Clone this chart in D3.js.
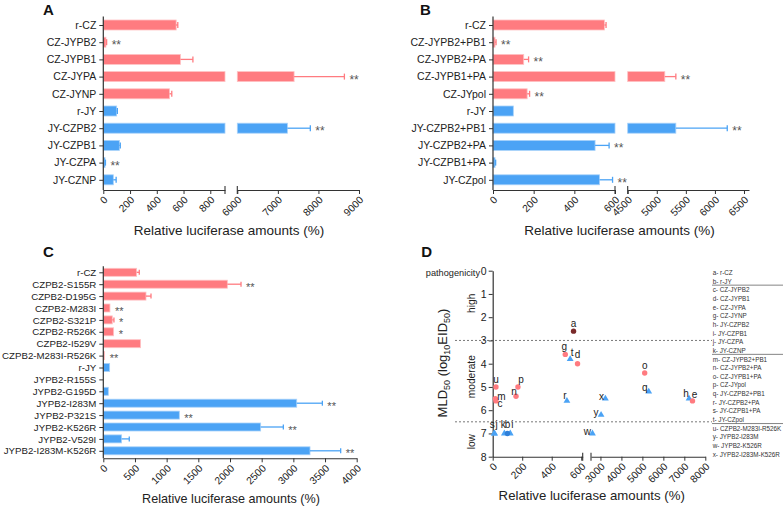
<!DOCTYPE html>
<html>
<head>
<meta charset="utf-8">
<script src="https://cdn.jsdelivr.net/npm/d3@7"></script>
<style>
body { margin: 0; background: #fff; }
text { font-family: "Liberation Sans", Arial, sans-serif; }
</style>
</head>
<body>
<script>
const PINK = "#ff7b80", BLUE = "#4ba3f5";
const PINK_EDGE = "#ffc2c4", BLUE_EDGE = "#a8d2fa";
const AXIS = "#333";

// ---- panel A
const aCats = ["r-CZ", "CZ-JYPB2", "CZ-JYPB1", "CZ-JYPA", "CZ-JYNP", "r-JY", "JY-CZPB2", "JY-CZPB1", "JY-CZPA", "JY-CZNP"];
const aGroup = ["CZ", "CZ", "CZ", "CZ", "CZ", "JY", "JY", "JY", "JY", "JY"];
const aVals = [545, 20, 577, 7400, 495, 100, 7235, 120, 13, 75];
const aErrs = [12, 5, 93, 1240, 17, 5, 565, 7, 3, 21];
const aSig = ["", "**", "", "**", "", "", "**", "", "**", ""];

// ---- panel B
const bCats = ["r-CZ", "CZ-JYPB2+PB1", "CZ-JYPB2+PA", "CZ-JYPB1+PA", "CZ-JYpol", "r-JY", "JY-CZPB2+PB1", "JY-CZPB2+PA", "JY-CZPB1+PA", "JY-CZpol"];
const bGroup = ["CZ", "CZ", "CZ", "CZ", "CZ", "JY", "JY", "JY", "JY", "JY"];
const bVals = [548, 10, 151, 5138, 168, 100, 5328, 502, 10, 524];
const bErrs = [8, 5, 24, 190, 12, 0, 884, 69, 3, 64];
const bSig = ["", "**", "**", "**", "**", "", "**", "**", "", "**"];

// ---- panel C
const cCats = ["r-CZ", "CZPB2-S155R", "CZPB2-D195G", "CZPB2-M283I", "CZPB2-S321P", "CZPB2-R526K", "CZPB2-I529V", "CZPB2-M283I-R526K",
  "r-JY", "JYPB2-R155S", "JYPB2-G195D", "JYPB2-I283M", "JYPB2-P321S", "JYPB2-K526R", "JYPB2-V529I", "JYPB2-I283M-K526R"];
const cGroup = ["CZ", "CZ", "CZ", "CZ", "CZ", "CZ", "CZ", "CZ", "JY", "JY", "JY", "JY", "JY", "JY", "JY", "JY"];
const cVals = [526, 1958, 674, 105, 142, 163, 589, 21, 100, 0, 79, 3053, 1200, 2484, 289, 3263];
const cErrs = [42, 216, 79, 0, 26, 0, 0, 0, 0, 0, 0, 405, 0, 358, 121, 484];
const cSig = ["", "**", "", "**", "*", "*", "", "**", "", "", "", "**", "**", "**", "", "**"];

// ---- panel D
const dLetters = ["a", "b", "c", "d", "e", "g", "h", "i", "j", "k", "m", "n", "o", "p", "q", "r", "s", "t", "u", "y", "w", "x"];
const dNames = ["r-CZ", "r-JY", "CZ-JYPB2", "CZ-JYPB1", "CZ-JYPA", "CZ-JYNP", "JY-CZPB2", "JY-CZPB1", "JY-CZPA", "JY-CZNP",
  "CZ-JYPB2+PB1", "CZ-JYPB2+PA", "CZ-JYPB1+PA", "CZ-JYpol", "JY-CZPB2+PB1", "JY-CZPB2+PA", "JY-CZPB1+PA", "JY-CZpol",
  "CZPB2-M283I-R526K", "JYPB2-I283M", "JYPB2-K526R", "JYPB2-I283M-K526R"];
const dKind = ["rCZ", "rJY", "CZ", "CZ", "CZ", "CZ", "JY", "JY", "JY", "JY", "CZ", "CZ", "CZ", "CZ", "JY", "JY", "JY", "JY", "CZ", "JY", "JY", "JY"];
const dLuc = [548, 100, 22, 575, 7389, 492, 7226, 119, 13, 79, 18, 158, 5110, 171, 5303, 503, 10, 525, 22, 3030, 2620, 3236];
const dMld = [2.6, 7.0, 5.6, 4.0, 5.6, 3.6, 5.5, 7.0, 7.0, 7.0, 5.5, 5.4, 4.4, 5.0, 5.2, 5.6, 7.0, 3.8, 5.0, 6.2, 7.0, 5.5];
const legendBreaks = ["b", "k", "t"];

// label nudges for the scatter letters (px)
const nudge = {
  a: [0, -7], b: [0, -8], c: [4, 3], d: [0, -9], e: [2, -6], g: [-1, -7], h: [-3, -5], i: [2, -8],
  j: [2, -8], k: [-1, -8], m: [6, -2], n: [-2, -4], o: [0, -7], p: [3, -7], q: [-4, -4], r: [-2, -5],
  s: [-2, -8], t: [2, -6], u: [0, -7], y: [-5, -2], w: [-5, -1], x: [-4, -2]
};

const svg = d3.select("body").append("svg").attr("width", 784).attr("height", 508);

function styleTicks(sel, fs) {
  sel.select(".domain").attr("stroke", AXIS).attr("stroke-width", 1.1);
  sel.selectAll(".tick line").attr("stroke", AXIS).attr("stroke-width", 1);
  sel.selectAll(".tick text").attr("fill", "#222").attr("font-size", fs);
}

function bottomSegs(g, segs, axisY, brk) {
  segs.forEach(s => {
    const ax = g.append("g").attr("transform", `translate(0,${axisY})`)
      .call(d3.axisBottom(s.scale).tickValues(s.ticks).tickFormat(d3.format("d")).tickSize(4).tickSizeOuter(0));
    styleTicks(ax, "10.3px");
    ax.selectAll(".tick text")
      .attr("x", 0).attr("y", 0).attr("dy", "0.35em")
      .attr("text-anchor", "end")
      .attr("transform", "translate(2,8) rotate(-45)");
  });
  brk.forEach(x => {
    g.append("line").attr("x1", x).attr("x2", x).attr("y1", axisY - 4).attr("y2", axisY + 4)
      .attr("stroke", AXIS).attr("stroke-width", 1.1);
  });
}

function barPanel(o) {
  const g = svg.append("g");
  const rows = o.cats.map((c, i) => ({ cat: c, v: o.vals[i], e: o.errs[i], sig: o.sig[i], grp: o.group[i] }));
  const y = d3.scalePoint().domain(o.cats).range([o.top, o.bottom]).padding(0.5);
  const segs = o.segs.map(s => ({ ...s, scale: d3.scaleLinear().domain(s.domain).range(s.range) }));
  const fill = d => d.grp === "CZ" ? PINK : BLUE;
  const edge = d => d.grp === "CZ" ? PINK_EDGE : BLUE_EDGE;

  segs.forEach(s => {
    g.append("g").selectAll("rect")
      .data(rows.filter(d => d.v > s.domain[0]))
      .join("rect")
      .attr("x", s.range[0])
      .attr("y", d => y(d.cat) - o.barH / 2)
      .attr("width", d => s.scale(Math.min(d.v, s.domain[1])) - s.range[0])
      .attr("height", o.barH)
      .attr("fill", fill)
      .attr("stroke", edge).attr("stroke-width", 0.8);
  });

  const segOf = v => segs.find(s => v >= s.domain[0] && v <= s.domain[1]) || segs[segs.length - 1];
  const endX = d => { const s = segOf(d.v); return s.scale(d.v + d.e); };

  const eb = g.append("g").selectAll("g").data(rows.filter(d => d.e > 0)).join("g")
    .attr("stroke", fill).attr("stroke-width", 1.3);
  eb.append("line")
    .attr("x1", d => segOf(d.v).scale(d.v)).attr("x2", endX)
    .attr("y1", d => y(d.cat)).attr("y2", d => y(d.cat));
  eb.append("line")
    .attr("x1", endX).attr("x2", endX)
    .attr("y1", d => y(d.cat) - o.cap).attr("y2", d => y(d.cat) + o.cap);

  g.append("g").selectAll("text").data(rows.filter(d => d.sig)).join("text")
    .attr("x", d => endX(d) + 5)
    .attr("y", d => y(d.cat) + o.sigDy)
    .attr("font-size", o.sigFs).attr("fill", "#555")
    .text(d => d.sig);

  const ya = g.append("g").attr("transform", `translate(${o.x0},0)`)
    .call(d3.axisLeft(y).tickSize(4).tickPadding(3).tickSizeOuter(0));
  styleTicks(ya, o.fs);
  ya.select(".domain").remove();
  g.append("line").attr("x1", o.x0).attr("x2", o.x0).attr("y1", o.top).attr("y2", o.axisY)
    .attr("stroke", AXIS).attr("stroke-width", 1.2);

  bottomSegs(g, segs, o.axisY, o.brk);

  g.append("text").attr("x", o.titleX).attr("y", o.titleY).attr("text-anchor", "middle")
    .attr("font-size", o.titleFs).attr("fill", "#222").text("Relative luciferase amounts (%)");
  g.append("text").attr("x", o.labX).attr("y", o.labY).attr("font-size", "15px").attr("font-weight", "bold")
    .attr("fill", "#111").text(o.label);
}

barPanel({
  label: "A", labX: 43, labY: 14.5,
  cats: aCats, vals: aVals, errs: aErrs, sig: aSig, group: aGroup,
  top: 16.4, bottom: 188.4, barH: 10, cap: 3, x0: 103.3, axisY: 190, fs: "10.5px", sigFs: "12px", sigDy: 7,
  segs: [
    { domain: [0, 910], range: [103.3, 225], ticks: [0, 200, 400, 600, 800] },
    { domain: [6000, 9000], range: [237.3, 359], ticks: [6000, 7000, 8000, 9000] }
  ],
  brk: [225, 237.3],
  titleX: 229, titleY: 235, titleFs: "13.5px"
});

barPanel({
  label: "B", labX: 420, labY: 14.5,
  cats: bCats, vals: bVals, errs: bErrs, sig: bSig, group: bGroup,
  top: 16.4, bottom: 188.4, barH: 10, cap: 3, x0: 493, axisY: 190, fs: "10.5px", sigFs: "12px", sigDy: 7,
  segs: [
    { domain: [0, 600], range: [493, 615], ticks: [0, 200, 400, 600] },
    { domain: [4500, 6586], range: [627.7, 749], ticks: [4500, 5000, 5500, 6000, 6500] }
  ],
  brk: [615, 627.7],
  titleX: 619.5, titleY: 235, titleFs: "13.5px"
});

barPanel({
  label: "C", labX: 43, labY: 257.3,
  cats: cCats, vals: cVals, errs: cErrs, sig: cSig, group: cGroup,
  top: 266.35, bottom: 456.75, barH: 8, cap: 2.5, x0: 103.3, axisY: 458.3, fs: "9.7px", sigFs: "11px", sigDy: 6.5,
  segs: [
    { domain: [0, 4000], range: [103.3, 356.7], ticks: d3.range(0, 4001, 500) }
  ],
  brk: [],
  titleX: 231, titleY: 502.5, titleFs: "12.6px"
});

// ---- panel D scatter
(function () {
  const g = svg.append("g");
  const x1 = d3.scaleLinear().domain([0, 610]).range([492.7, 582.7]);
  const x2 = d3.scaleLinear().domain([2550, 8000]).range([591, 705.3]);
  const xf = v => v <= 610 ? x1(v) : x2(v);
  const y = d3.scaleLinear().domain([0, 8]).range([270.7, 456.7]);

  // threshold lines
  [3, 6.5].forEach(t => {
    g.append("line").attr("x1", 455).attr("x2", 712).attr("y1", y(t)).attr("y2", y(t))
      .attr("stroke", "#555").attr("stroke-width", 0.8).attr("stroke-dasharray", "2,2");
  });

  const ya = g.append("g").attr("transform", "translate(492.7,0)")
    .call(d3.axisLeft(y).ticks(8).tickSize(4).tickPadding(2).tickSizeOuter(0));
  styleTicks(ya, "10.5px");
  ya.select(".domain").attr("stroke-width", 1.2);

  bottomSegs(g, [
    { scale: x1, ticks: [0, 200, 400, 600] },
    { scale: x2, ticks: [3000, 4000, 5000, 6000, 7000, 8000] }
  ], 456.7, [582.7, 591]);

  const pts = dLetters.map((l, i) => ({ l: l, name: dNames[i], kind: dKind[i], x: xf(dLuc[i]), y: y(dMld[i]) }));
  const color = { rCZ: "#7a2a2a", rJY: "#2f7fd8", CZ: PINK, JY: BLUE };
  const tri = d3.symbol(d3.symbolTriangle).size(20);

  g.append("g").selectAll("path").data(pts.filter(d => d.kind === "JY")).join("path")
    .attr("d", tri).attr("transform", d => `translate(${d.x},${d.y})`).attr("fill", BLUE);
  g.append("g").selectAll("circle").data(pts.filter(d => d.kind !== "JY")).join("circle")
    .attr("cx", d => d.x).attr("cy", d => d.y).attr("r", 2.7).attr("fill", d => color[d.kind]);

  g.append("g").selectAll("text").data(pts).join("text")
    .attr("x", d => d.x + nudge[d.l][0]).attr("y", d => d.y + nudge[d.l][1])
    .attr("dy", "0.3em").attr("text-anchor", "middle")
    .attr("font-size", "10px").attr("fill", "#222").text(d => d.l);

  // y-side annotations
  g.append("text").attr("x", 480).attr("y", 275.5).attr("text-anchor", "end")
    .attr("font-size", "9.2px").attr("fill", "#222").text("pathogenicity");
  [["high", 303.3], ["moderate", 376.7], ["low", 441.7]].forEach(([t, cy]) => {
    g.append("text").attr("transform", `translate(475,${cy}) rotate(-90)`).attr("text-anchor", "middle")
      .attr("font-size", "10.2px").attr("fill", "#222").text(t);
  });

  const yl = g.append("text").attr("transform", "translate(447,363) rotate(-90)").attr("text-anchor", "middle")
    .attr("font-size", "13px").attr("fill", "#222");
  yl.append("tspan").text("MLD");
  yl.append("tspan").attr("font-size", "9px").attr("dy", 3).text("50");
  yl.append("tspan").attr("dy", -3).text(" (log");
  yl.append("tspan").attr("font-size", "9px").attr("dy", 3).text("10");
  yl.append("tspan").attr("dy", -3).text("EID");
  yl.append("tspan").attr("font-size", "9px").attr("dy", 3).text("50");
  yl.append("tspan").attr("dy", -3).text(")");

  g.append("text").attr("x", 591.7).attr("y", 499.5).attr("text-anchor", "middle")
    .attr("font-size", "13.2px").attr("fill", "#222").text("Relative luciferase amounts (%)");
  g.append("text").attr("x", 421.3).attr("y", 257.3).attr("font-size", "15px").attr("font-weight", "bold")
    .attr("fill", "#111").text("D");

  // legend
  const lg = g.append("g").attr("font-size", "6.3px").attr("fill", "#333");
  pts.forEach((d, i) => {
    const by = 275 + i * 8.65;
    lg.append("text").attr("x", 712.7).attr("y", by).text(d.l + "- " + d.name);
    if (legendBreaks.includes(d.l)) {
      lg.append("line").attr("x1", 712).attr("x2", 783).attr("y1", by + 1.5).attr("y2", by + 1.5)
        .attr("stroke", "#777").attr("stroke-width", 0.9);
    }
  });
})();
</script>
</body>
</html>
